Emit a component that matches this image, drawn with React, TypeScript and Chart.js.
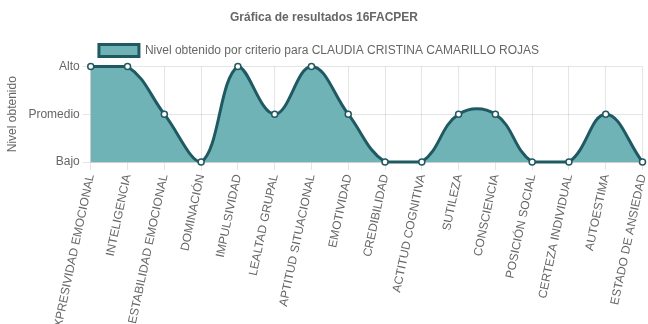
import React, { useEffect, useRef } from "react";
import { Chart, registerables } from "chart.js";

Chart.register(...registerables);

const categories = [
  "EXPRESIVIDAD EMOCIONAL",
  "INTELIGENCIA",
  "ESTABILIDAD EMOCIONAL",
  "DOMINACIÓN",
  "IMPULSIVIDAD",
  "LEALTAD GRUPAL",
  "APTITUD SITUACIONAL",
  "EMOTIVIDAD",
  "CREDIBILIDAD",
  "ACTITUD COGNITIVA",
  "SUTILEZA",
  "CONSCIENCIA",
  "POSICIÓN SOCIAL",
  "CERTEZA INDIVIDUAL",
  "AUTOESTIMA",
  "ESTADO DE ANSIEDAD",
];

// 1 = Bajo, 2 = Promedio, 3 = Alto
const levels = [3, 3, 2, 1, 3, 2, 3, 2, 1, 1, 2, 2, 1, 1, 2, 1];

const levelLabels = ["", "Bajo", "Promedio", "Alto"];

const seriesLabel = "Nivel obtenido por criterio para CLAUDIA CRISTINA CAMARILLO ROJAS";
const chartTitle = "Gráfica de resultados 16FACPER";
const yTitle = "Nivel obtenido";

const legendShift = {
  id: "legendShift",
  afterLayout(chart: any) {
    const l = chart.legend;
    if (l && l.lineWidths && l.lineWidths.length) l.lineWidths[0] += 10;
  },
};

export default function App() {
  const ref = useRef<HTMLCanvasElement | null>(null);

  useEffect(() => {
    document.body.style.margin = "0";
    if (!ref.current) return;
    Chart.defaults.font.family = "'Liberation Sans', Arial, sans-serif";
    Chart.defaults.font.size = 12;
    Chart.defaults.color = "#666";
    const chart = new Chart(ref.current, {
      type: "line",
      plugins: [legendShift],
      data: {
        labels: categories,
        datasets: [
          {
            label: seriesLabel,
            data: levels,
            fill: "start",
            backgroundColor: "#6fb3b7",
            borderColor: "#1f5961",
            borderWidth: 3,
            tension: 0.4,
            pointRadius: 3,
            pointBackgroundColor: "#ffffff",
            pointBorderColor: "#1f5961",
            pointBorderWidth: 1.5,
            clip: 6,
          },
        ],
      },
      options: {
        animation: false,
        responsive: false,
        maintainAspectRatio: false,
        plugins: {
          title: {
            display: true,
            text: chartTitle,
            font: { size: 12, weight: "bold" },
            color: "#666",
            padding: { top: 10, bottom: 10 },
          },
          legend: {
            display: true,
            labels: { boxWidth: 40, boxHeight: 12, color: "#666", font: { size: 12 } },
          },
          tooltip: { enabled: false },
        },
        scales: {
          x: {
            offset: false,
            grid: { color: "rgba(0,0,0,0.1)", tickLength: 8 },
            ticks: { autoSkip: false, minRotation: 78, maxRotation: 78, color: "#666", padding: 3 },
            afterFit: (scale: any) => {
              scale.paddingRight = 4;
            },
          },
          y: {
            min: 1,
            max: 3,
            grid: { color: "rgba(0,0,0,0.1)", tickLength: 8 },
            ticks: {
              stepSize: 1,
              color: "#666",
              padding: 3,
              callback: (v: any) => levelLabels[Number(v)] ?? "",
            },
            title: {
              display: true,
              text: yTitle,
              color: "#666",
              font: { size: 12 },
              padding: { top: 5, bottom: 6 },
            },
          },
        },
      },
    });
    return () => chart.destroy();
  }, []);

  return <canvas ref={ref} width={648} height={324} style={{ display: "block" }} />;
}
